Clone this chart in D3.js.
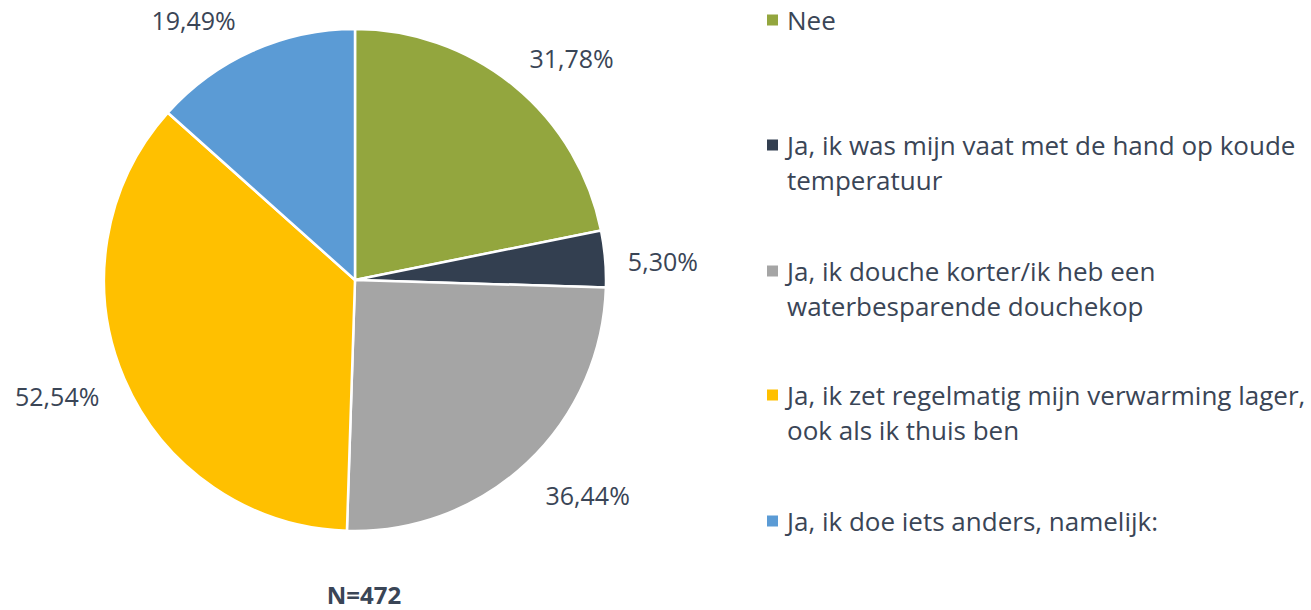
<!DOCTYPE html>
<html><head><meta charset="utf-8">
<script src="https://cdn.jsdelivr.net/npm/d3@7"></script>
<style>body{margin:0;background:#fff}svg{display:block}</style>
</head><body>
<svg id="chart" width="1311" height="610"></svg>
<script>
const categories = ["Nee","Ja, ik was mijn vaat met de hand op koude temperatuur","Ja, ik douche korter/ik heb een waterbesparende douchekop","Ja, ik zet regelmatig mijn verwarming lager, ook als ik thuis ben","Ja, ik doe iets anders, namelijk:"];
const legendLines = [["Nee"],["Ja, ik was mijn vaat met de hand op koude","temperatuur"],["Ja, ik douche korter/ik heb een","waterbesparende douchekop"],["Ja, ik zet regelmatig mijn verwarming lager,","ook als ik thuis ben"],["Ja, ik doe iets anders, namelijk:"]];
const values = [31.78, 5.30, 36.44, 52.54, 19.49];
const labels = ["31,78%","5,30%","36,44%","52,54%","19,49%"];
const colors = ["#93A63E","#333F50","#A5A5A5","#FFC000","#5B9BD5"];
const nLabel = "N=472";

const svg = d3.select("#chart");
const font = "'Open Sans', sans-serif";
const textColor = "#3A4556";
const cx = 355, cy = 280, r = 251;
const data = values.map((v,i)=>({v,i}));
const pie = d3.pie().value(d=>d.v).sort(null);
const arcs = pie(data);
const arc = d3.arc().innerRadius(0).outerRadius(r);
const g = svg.append("g").attr("transform",`translate(${cx},${cy})`);
g.selectAll("path").data(arcs).join("path")
  .attr("d",arc).attr("fill",d=>colors[d.data.i])
  .attr("stroke","#fff").attr("stroke-width",2.5).attr("stroke-linejoin","round");
// label placement: centroid on a ring outside the pie plus small layout nudges (Excel-like)
const labelArc = d3.arc().innerRadius(312).outerRadius(312);
const nudges = [[19,20],[-3,8],[19,-11],[-11,-6],[-34,26]];
g.selectAll("text.lbl").data(arcs).join("text").attr("class","lbl")
  .attr("transform",d=>{const c=labelArc.centroid(d);const n=nudges[d.data.i];return `translate(${c[0]+n[0]},${c[1]+n[1]+9})`;})
  .attr("text-anchor","middle")
  .style("font-family",font).style("font-size","25px").attr("fill",textColor)
  .text(d=>labels[d.data.i]);

svg.append("text").attr("x",364).attr("y",604).attr("text-anchor","middle")
  .style("font-family",font).style("font-size","24px").style("font-weight","bold")
  .attr("fill",textColor).text(nLabel);

const rowY = [20,145,271,395,521];
const lg = svg.append("g");
legendLines.forEach((lines,i)=>{
  lg.append("rect").attr("x",767).attr("y",rowY[i]-5.5).attr("width",11).attr("height",11).attr("fill",colors[i]);
  lines.forEach((t,j)=>{
    lg.append("text").attr("x",787).attr("y",rowY[i]+10+j*35)
      .style("font-family",font).style("font-size","26px").attr("fill",textColor).text(t);
  });
});
</script>
</body></html>
